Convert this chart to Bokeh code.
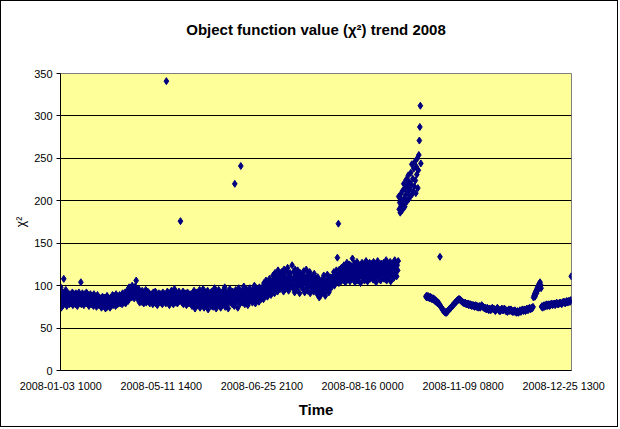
import numpy as np
from bokeh.plotting import figure
from bokeh.models import Range1d, FixedTicker, ColumnDataSource, LinearAxis
from bokeh.embed import file_html
from bokeh.resources import INLINE

nan = float("nan")

# chi^2 value of each sample (one category per sample on the time axis)
chi2_values = [
    98, 74, 86, 80, 92, 77, 108, 84, 89, 79, 95, 83, 76, 88, 91, 81, 85, 78, 90, 86,
    79, 88, 84, 92, 77, 86, 90, 81, 85, 78, 91, 83, 87, 76, 89, 82, 92, 80, 85, 88,
    104, 78, 86, 91, 82, 88, 77, 84, 90, 80, 86, 92, 79, 85, 83, 89, 76, 87, 81, 90,
    84, 78, 88, 81, 86, 76, 90, 83, 79, 87, 82, 75, 85, 89, 80, 84, 77, 86, 82, 79,
    85, 74, 81, 87, 78, 83, 76, 86, 80, 73, 84, 79, 88, 75, 82, 77, 85, 80, 74, 83,
    79, 86, 81, 89, 77, 84, 88, 80, 83, 76, 90, 82, 85, 78, 87, 81, 84, 89, 79, 86,
    82, 88, 78, 91, 85, 80, 87, 83, 92, 79, 86, 90, 84, 95, 82, 88, 98, 86, 93, 89,
    94, 86, 100, 90, 88, 97, 85, 92, 99, 91, 106, 95, 87, 93, 83, 96, 89, 80, 92, 86,
    90, 81, 94, 85, 88, 79, 92, 86, 83, 95, 80, 89, 87, 93, 82, 84, 91, 79, 88, 85,
    82, 90, 86, 78, 92, 84, 80, 88, 93, 79, 85, 89, 77, 87, 83, 91, 81, 86, 90, 80,
    88, 84, 78, 92, 86, 81, 90, 83, 87, 79, 341, 85, 93, 80, 89, 84, 77, 91, 86, 82,
    94, 81, 87, 90, 78, 85, 96, 83, 88, 80, 92, 86, 79, 89, 84, 93, 82, 87, 176, 85,
    90, 80, 86, 93, 78, 88, 84, 91, 81, 87, 77, 85, 92, 83, 89, 79, 86, 90, 82, 84,
    88, 76, 91, 83, 79, 94, 85, 73, 89, 81, 86, 92, 77, 84, 90, 80, 95, 74, 87, 82,
    78, 90, 85, 96, 80, 74, 88, 83, 92, 77, 86, 81, 94, 72, 89, 84, 79, 91, 86, 76,
    93, 82, 87, 75, 90, 84, 97, 79, 86, 73, 91, 83, 88, 78, 95, 85, 80, 92, 74, 87,
    83, 90, 77, 94, 86, 81, 98, 75, 89, 84, 92, 79, 87, 73, 91, 85, 96, 80, 88, 82,
    86, 78, 93, 84, 90, 76, 220, 88, 95, 81, 85, 91, 74, 87, 97, 83, 89, 79, 241, 92,
    84, 94, 80, 88, 99, 85, 78, 91, 86, 96, 82, 89, 77, 93, 87, 81, 97, 84, 90, 86,
    92, 80, 88, 95, 84, 100, 86, 79, 91, 97, 83, 89, 94, 85, 81, 98, 88, 92, 84, 96,
    86, 93, 99, 84, 103, 90, 96, 88, 106, 92, 100, 87, 97, 104, 91, 108, 95, 101, 89, 98,
    105, 94, 112, 99, 108, 91, 115, 102, 97, 110, 106, 93, 118, 100, 104, 113, 96, 109, 103, 116,
    98, 107, 114, 93, 119, 102, 110, 96, 105, 117, 100, 121, 108, 94, 112, 103, 115, 99, 109, 106,
    124, 104, 97, 116, 110, 92, 119, 101, 107, 113, 95, 118, 105, 100, 111, 91, 115, 103, 108, 98,
    112, 101, 96, 117, 106, 92, 110, 103, 119, 98, 108, 94, 114, 100, 105, 116, 91, 109, 102, 97,
    111, 99, 106, 93, 114, 102, 95, 108, 97, 104, 90, 110, 100, 92, 86, 106, 98, 89, 103, 95,
    100, 108, 91, 112, 97, 104, 88, 106, 101, 94, 113, 99, 107, 92, 103, 110, 96, 105, 100, 109,
    102, 111, 106, 116, 100, 109, 114, 104, 118, 107, 133, 112, 173, 103, 119, 110, 115, 105, 121, 108,
    113, 118, 106, 124, 111, 116, 104, 121, 109, 127, 114, 107, 119, 112, 125, 105, 117, 110, 123, 115,
    132, 108, 120, 113, 126, 104, 117, 122, 110, 128, 115, 106, 119, 124, 111, 116, 103, 121, 114, 127,
    109, 118, 125, 112, 106, 122, 116, 129, 110, 119, 105, 124, 113, 117, 127, 108, 121, 114, 111, 126,
    118, 107, 128, 115, 122, 110, 125, 104, 119, 113, 129, 116, 109, 123, 112, 120, 106, 126, 117, 114,
    121, 111, 127, 108, 118, 124, 113, 130, 106, 120, 116, 125, 110, 122, 114, 128, 105, 119, 123, 112,
    117, 126, 109, 122, 130, 114, 120, 127, 111, 124, 118, 129, 205, 190, 198, 186, 208, 194, 201, 189,
    212, 197, 220, 203, 193, 215, 207, 225, 199, 218, 210, 230, 202, 222, 214, 205, 233, 219, 243, 208,
    226, 211, 238, 217, 246, 224, 209, 240, 231, 250, 215, 236, 254, 271, 287, 312, 244, nan, nan, nan,
    nan, nan, nan, nan, nan, nan, 87, 88, 86, 87, 88, 86, 87, 85, 86, 87, 85, 86, 84, 85,
    84, 85, 83, 84, 82, 83, 81, 82, 80, 81, 79, 80, 78, 77, 134, 76, 75, 74, 73, 72,
    71, 70, 70, 69, 69, 68, 69, 68, 69, 70, 70, 71, 72, 72, 73, 74, 74, 75, 76, 76,
    77, 78, 78, 79, 80, 80, 81, 82, 82, 83, 83, 84, 84, 84, 83, 83, 82, 82, 81, 81,
    80, 80, 79, 79, 80, 79, 78, 79, 78, 78, 79, 77, 78, 78, 77, 78, 77, 76, 77, 77,
    76, 77, 76, 75, 76, 77, 76, 75, 76, 75, 74, 75, 76, 75, 74, 75, 76, 77, 76, 75,
    75, 74, 74, 73, 74, 73, 72, 73, 74, 73, 72, 71, 72, 73, 72, 71, 72, 73, 74, 73,
    72, 73, 72, 71, 70, 71, 72, 73, 74, 73, 72, 71, 70, 71, 70, 71, 72, 73, 72, 71,
    71, 72, 73, 72, 71, 70, 71, 70, 69, 70, 71, 72, 71, 70, 71, 72, 71, 70, 69, 70,
    70, 69, 70, 71, 70, 69, 68, 69, 70, 69, 68, 69, 70, 71, 70, 69, 70, 71, 72, 71,
    70, 71, 72, 71, 70, 71, 72, 73, 72, 71, 72, 73, 74, 73, 72, 73, 74, 73, 74, 75,
    86, 88, 90, 87, 92, 94, 91, 96, 98, 95, 100, 102, 99, 104, 101, 97, 75, 76, 74, 75,
    76, 77, 75, 76, 77, 76, 78, 77, 76, 77, 78, 77, 76, 78, 77, 78, 79, 78, 77, 78,
    78, 79, 78, 77, 78, 79, 80, 79, 78, 79, 78, 79, 80, 79, 80, 79, 78, 79, 80, 81,
    80, 81, 80, 79, 80, 81, 82, 81, 80, 81, 82, 81, 82, 81, 83, 111,
]

tick_idx = [0, 200, 400, 600, 800, 1000]
tick_labels = ["2008-01-03 1000", "2008-05-11 1400", "2008-06-25 2100",
               "2008-08-16 0000", "2008-11-09 0800", "2008-12-25 1300"]
y_ticks = [0, 50, 100, 150, 200, 250, 300, 350]
grid_ticks = [50, 100, 150, 200, 250, 300]
title_text = "Object function value (χ²) trend 2008"

sample = np.arange(len(chi2_values))
src = ColumnDataSource(dict(x=sample, y=np.array(chi2_values, dtype=float)))

FONT = "Liberation Sans"

p = figure(width=618, height=427, output_backend="svg", toolbar_location=None,
           x_range=Range1d(-0.5, len(chi2_values) - 0.5), y_range=Range1d(0, 350),
           min_border_left=59, min_border_right=48, min_border_top=72, min_border_bottom=58,
           styles={"border": "1px solid black"})

p.background_fill_color = "#FFFF99"
p.border_fill_color = "white"
p.outline_line_color = "#808080"
p.outline_line_width = 1

xa = p.below[0]
ya = p.left[0]

# chart title: carried by a tick-less axis above the frame so it can sit high in the border
title_axis = LinearAxis(ticker=FixedTicker(ticks=[]), axis_label=title_text)
title_axis.axis_line_color = None
title_axis.major_tick_line_color = None
title_axis.minor_tick_line_color = None
title_axis.major_tick_out = 0
title_axis.minor_tick_out = 0
title_axis.major_label_standoff = 0
title_axis.axis_label_standoff = 36
title_axis.axis_label_text_font = FONT
title_axis.axis_label_text_font_size = "15px"
title_axis.axis_label_text_font_style = "bold"
title_axis.axis_label_text_color = "black"
p.add_layout(title_axis, "above")

p.xgrid.visible = False
p.ygrid.ticker = FixedTicker(ticks=grid_ticks)
p.ygrid.grid_line_color = "black"
p.ygrid.grid_line_width = 1

ya.ticker = FixedTicker(ticks=y_ticks)
ya.major_tick_out = 4
ya.major_tick_in = 0
ya.minor_tick_out = 0
ya.minor_tick_in = 0
ya.axis_line_color = "black"
ya.major_tick_line_color = "black"
ya.major_label_text_font = FONT
ya.major_label_text_font_size = "11px"
ya.major_label_text_color = "black"
ya.major_label_standoff = 4
ya.axis_label = "χ²"
ya.axis_label_text_font = FONT
ya.axis_label_text_font_size = "12px"
ya.axis_label_text_font_style = "normal"
ya.axis_label_text_color = "black"
ya.axis_label_standoff = 3

xa.ticker = FixedTicker(ticks=tick_idx)
xa.major_label_overrides = {t: lab for t, lab in zip(tick_idx, tick_labels)}
xa.major_tick_out = 0
xa.major_tick_in = 0
xa.minor_tick_out = 0
xa.minor_tick_in = 0
xa.axis_line_color = "black"
xa.major_label_text_font = FONT
xa.major_label_text_font_size = "10.8px"
xa.major_label_text_color = "black"
xa.major_label_standoff = 9
xa.axis_label = "Time"
xa.axis_label_text_font = FONT
xa.axis_label_text_font_size = "15px"
xa.axis_label_text_font_style = "bold"
xa.axis_label_text_color = "black"
xa.axis_label_standoff = 6

p.scatter("x", "y", source=src, marker="diamond", size=7,
          fill_color="#000080", line_color="#000080", line_width=1)

open("out.html", "w").write(file_html(p, INLINE))
